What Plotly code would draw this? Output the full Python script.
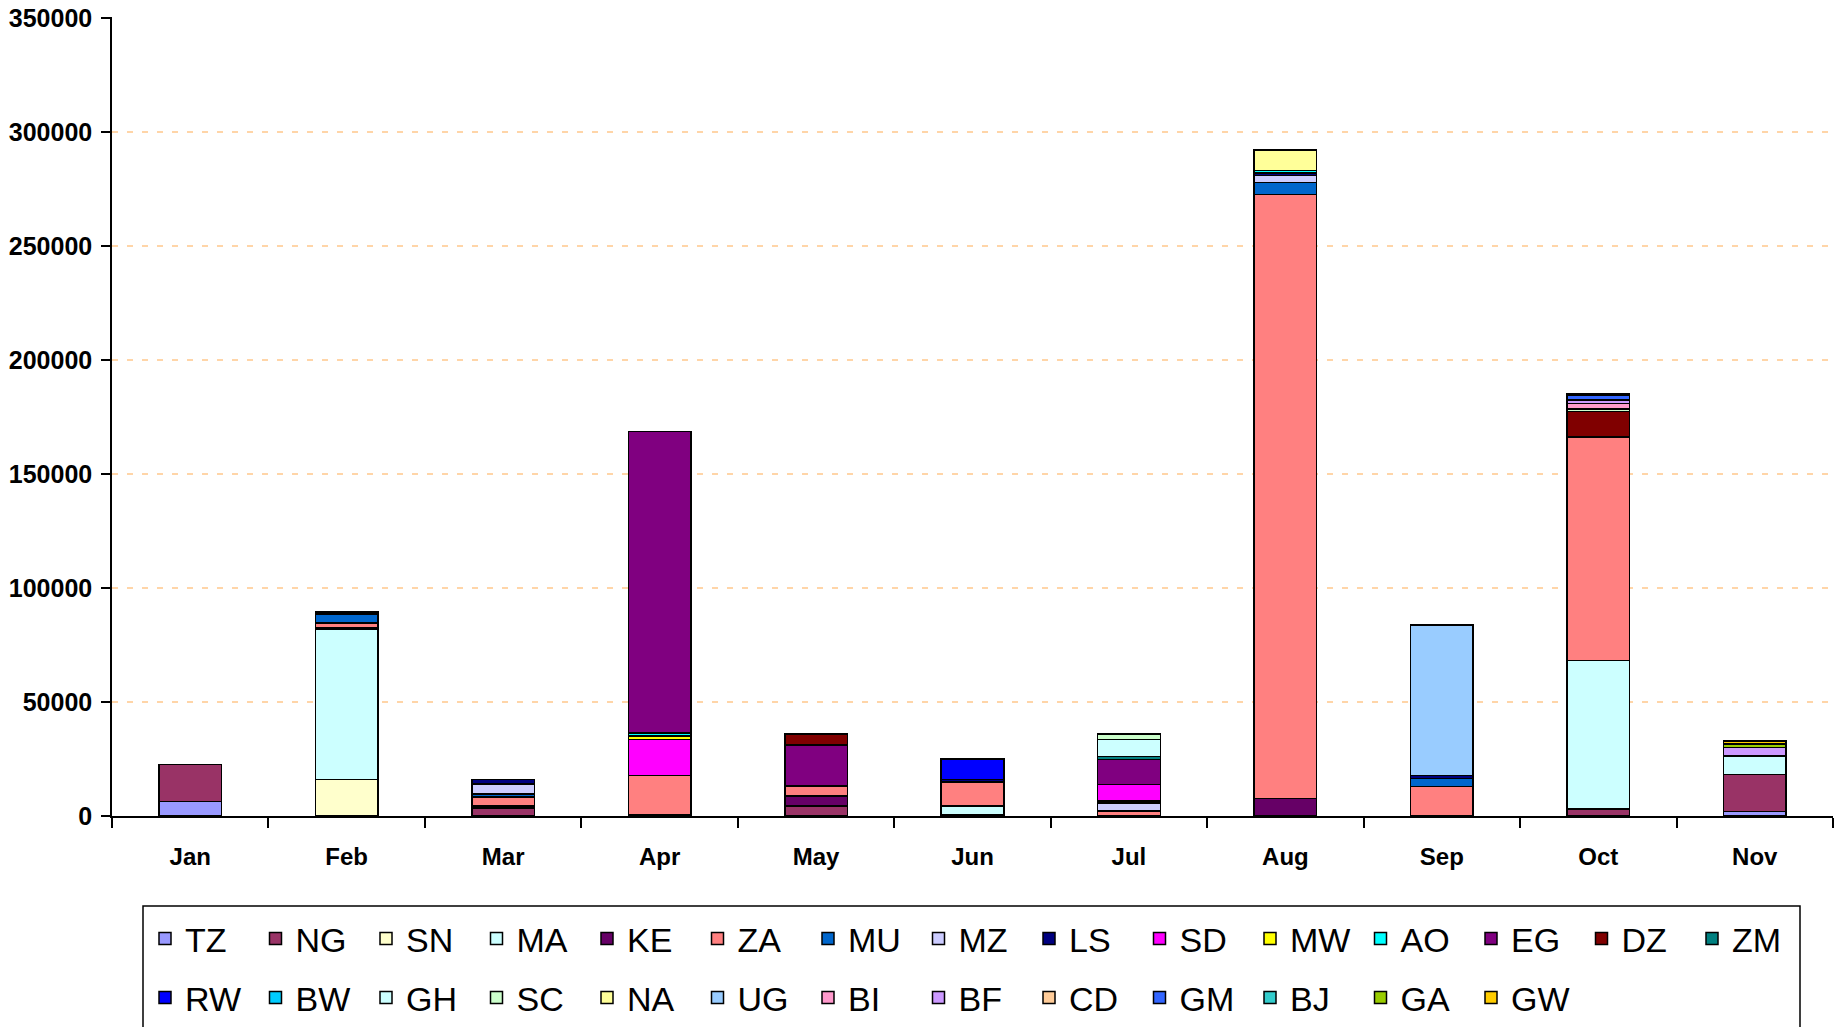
import plotly.graph_objects as go

months = ["Jan", "Feb", "Mar", "Apr", "May", "Jun", "Jul", "Aug", "Sep", "Oct", "Nov"]

#            Jan    Feb    Mar    Apr     May    Jun    Jul    Aug     Sep    Oct    Nov
TZ = [6300, 0, 0, 0, 0, 0, 0, 0, 0, 0, 1900]
NG = [16200, 0, 3600, 0, 4400, 600, 0, 0, 0, 3100, 16400]
SN = [0, 16000, 0, 0, 0, 0, 0, 0, 0, 0, 0]
MA = [0, 65700, 0, 0, 0, 3800, 0, 0, 0, 65000, 0]
KE = [0, 800, 800, 700, 4400, 0, 0, 7700, 0, 0, 0]
ZA = [0, 2200, 4000, 17100, 4400, 10500, 2200, 264800, 12900, 98100, 0]
MU = [0, 3800, 1200, 0, 0, 0, 0, 5300, 3600, 0, 0]
MZ = [0, 0, 4400, 0, 0, 0, 3600, 3200, 0, 0, 0]
LS = [0, 1000, 2000, 0, 0, 1000, 700, 1000, 1200, 0, 0]
SD = [0, 0, 0, 15800, 0, 0, 7300, 0, 0, 0, 0]
MW = [0, 0, 0, 1500, 0, 0, 0, 0, 0, 0, 0]
AO = [0, 0, 0, 1200, 0, 0, 0, 1000, 0, 0, 0]
EG = [0, 0, 0, 132400, 18000, 0, 11000, 0, 0, 0, 0]
DZ = [0, 0, 0, 0, 4800, 0, 0, 0, 0, 11300, 0]
ZM = [0, 0, 0, 0, 0, 0, 1200, 0, 0, 0, 0]
RW = [0, 0, 0, 0, 0, 9200, 0, 0, 0, 0, 0]
BW = [0, 0, 0, 0, 0, 0, 0, 0, 0, 0, 0]
GH = [0, 0, 0, 0, 0, 0, 7600, 0, 0, 0, 8000]
SC = [0, 0, 0, 0, 0, 0, 2300, 0, 0, 900, 0]
NA = [0, 0, 0, 0, 0, 0, 0, 9000, 0, 0, 0]
UG = [0, 0, 0, 0, 0, 0, 0, 0, 66000, 0, 0]
BI = [0, 0, 0, 0, 0, 0, 0, 0, 0, 2500, 0]
BF = [0, 0, 0, 0, 0, 0, 0, 0, 0, 1500, 3800]
CD = [0, 0, 0, 0, 0, 0, 0, 0, 0, 0, 0]
GM = [0, 0, 0, 0, 0, 0, 0, 0, 0, 2200, 0]
BJ = [0, 0, 0, 0, 0, 0, 0, 0, 0, 0, 0]
GA = [0, 0, 0, 0, 0, 0, 0, 0, 0, 0, 1500]
GW = [0, 0, 0, 0, 0, 0, 0, 0, 0, 400, 1400]

series = [
    ("TZ", TZ, "#9999FF"), ("NG", NG, "#993366"), ("SN", SN, "#FFFFCC"),
    ("MA", MA, "#CCFFFF"), ("KE", KE, "#660066"), ("ZA", ZA, "#FF8080"),
    ("MU", MU, "#0066CC"), ("MZ", MZ, "#CCCCFF"), ("LS", LS, "#000080"),
    ("SD", SD, "#FF00FF"), ("MW", MW, "#FFFF00"), ("AO", AO, "#00FFFF"),
    ("EG", EG, "#800080"), ("DZ", DZ, "#800000"), ("ZM", ZM, "#008080"),
    ("RW", RW, "#0000FF"), ("BW", BW, "#00CCFF"), ("GH", GH, "#CCFFFF"),
    ("SC", SC, "#CCFFCC"), ("NA", NA, "#FFFF99"), ("UG", UG, "#99CCFF"),
    ("BI", BI, "#FF99CC"), ("BF", BF, "#CC99FF"), ("CD", CD, "#FFCC99"),
    ("GM", GM, "#3366FF"), ("BJ", BJ, "#33CCCC"), ("GA", GA, "#99CC00"),
    ("GW", GW, "#FFCC00"),
]

yticks = [0, 50000, 100000, 150000, 200000, 250000, 300000, 350000]
YMAX = 350400

FONT = "Liberation Sans, Arial, sans-serif"

fig = go.Figure()
for i, (name, vals, col) in enumerate(series):
    fig.add_trace(go.Bar(
        name=name, x=months, y=vals,
        marker=dict(color=col, line=dict(color="black", width=1.5)),
        legend="legend" if i < 15 else "legend2",
    ))

# body margin is removed in the page (post_script), so figure sits at (0, 0)
W, H = 1841, 1027
L, R, T, B = 112, 8, 17, 211
pw, ph = W - L - R, H - T - B

def px2x(px):
    return (px - L) / pw

def py2y(py):
    return (H - B - py) / ph

leg_common = dict(
    orientation="h", xanchor="left", yanchor="middle",
    font=dict(family=FONT, size=34, color="black"),
    entrywidth=65.5, entrywidthmode="pixels",
    bgcolor="rgba(0,0,0,0)", borderwidth=0,
    itemclick=False, itemdoubleclick=False, traceorder="normal",
)

fig.update_layout(
    width=W, height=H,
    margin=dict(l=L, r=R, t=T, b=B, pad=0, autoexpand=False),
    barmode="stack", bargap=0.6,
    plot_bgcolor="white", paper_bgcolor="white",
    font=dict(family=FONT, color="black"),
    xaxis=dict(
        showline=True, linecolor="black", linewidth=1.5, automargin=False,
        ticks="outside", tickson="boundaries", ticklen=10, tickcolor="black", tickwidth=1.5,
        tickfont=dict(family=FONT, size=24, color="black", weight="bold"),
        ticklabelstandoff=18, showgrid=False,
    ),
    yaxis=dict(
        range=[0, YMAX], tickvals=yticks, ticktext=[str(v) for v in yticks],
        showline=True, linecolor="black", linewidth=1.5, automargin=False,
        ticks="outside", ticklen=9, tickcolor="black", tickwidth=1.5,
        tickfont=dict(family=FONT, size=25, color="black", weight="bold"),
        showgrid=True, gridcolor="#FFD5A8", gridwidth=1.5, griddash="6px,9px",
        zeroline=False, ticklabelstandoff=4, ticklabeloverflow="allow",
    ),
    legend=dict(x=px2x(145), y=py2y(939), **leg_common),
    legend2=dict(x=px2x(145), y=py2y(998), **leg_common),
    showlegend=True,
    shapes=[dict(type="rect", xref="paper", yref="paper",
                 x0=px2x(143), x1=px2x(1800), y0=py2y(1040), y1=py2y(906),
                 line=dict(color="black", width=1.5), fillcolor="rgba(0,0,0,0)", layer="below")],
)

fig.write_html(
    "out.html",
    config={"displayModeBar": False},
    post_script="document.body.style.margin='0';document.body.style.overflow='hidden';",
)
